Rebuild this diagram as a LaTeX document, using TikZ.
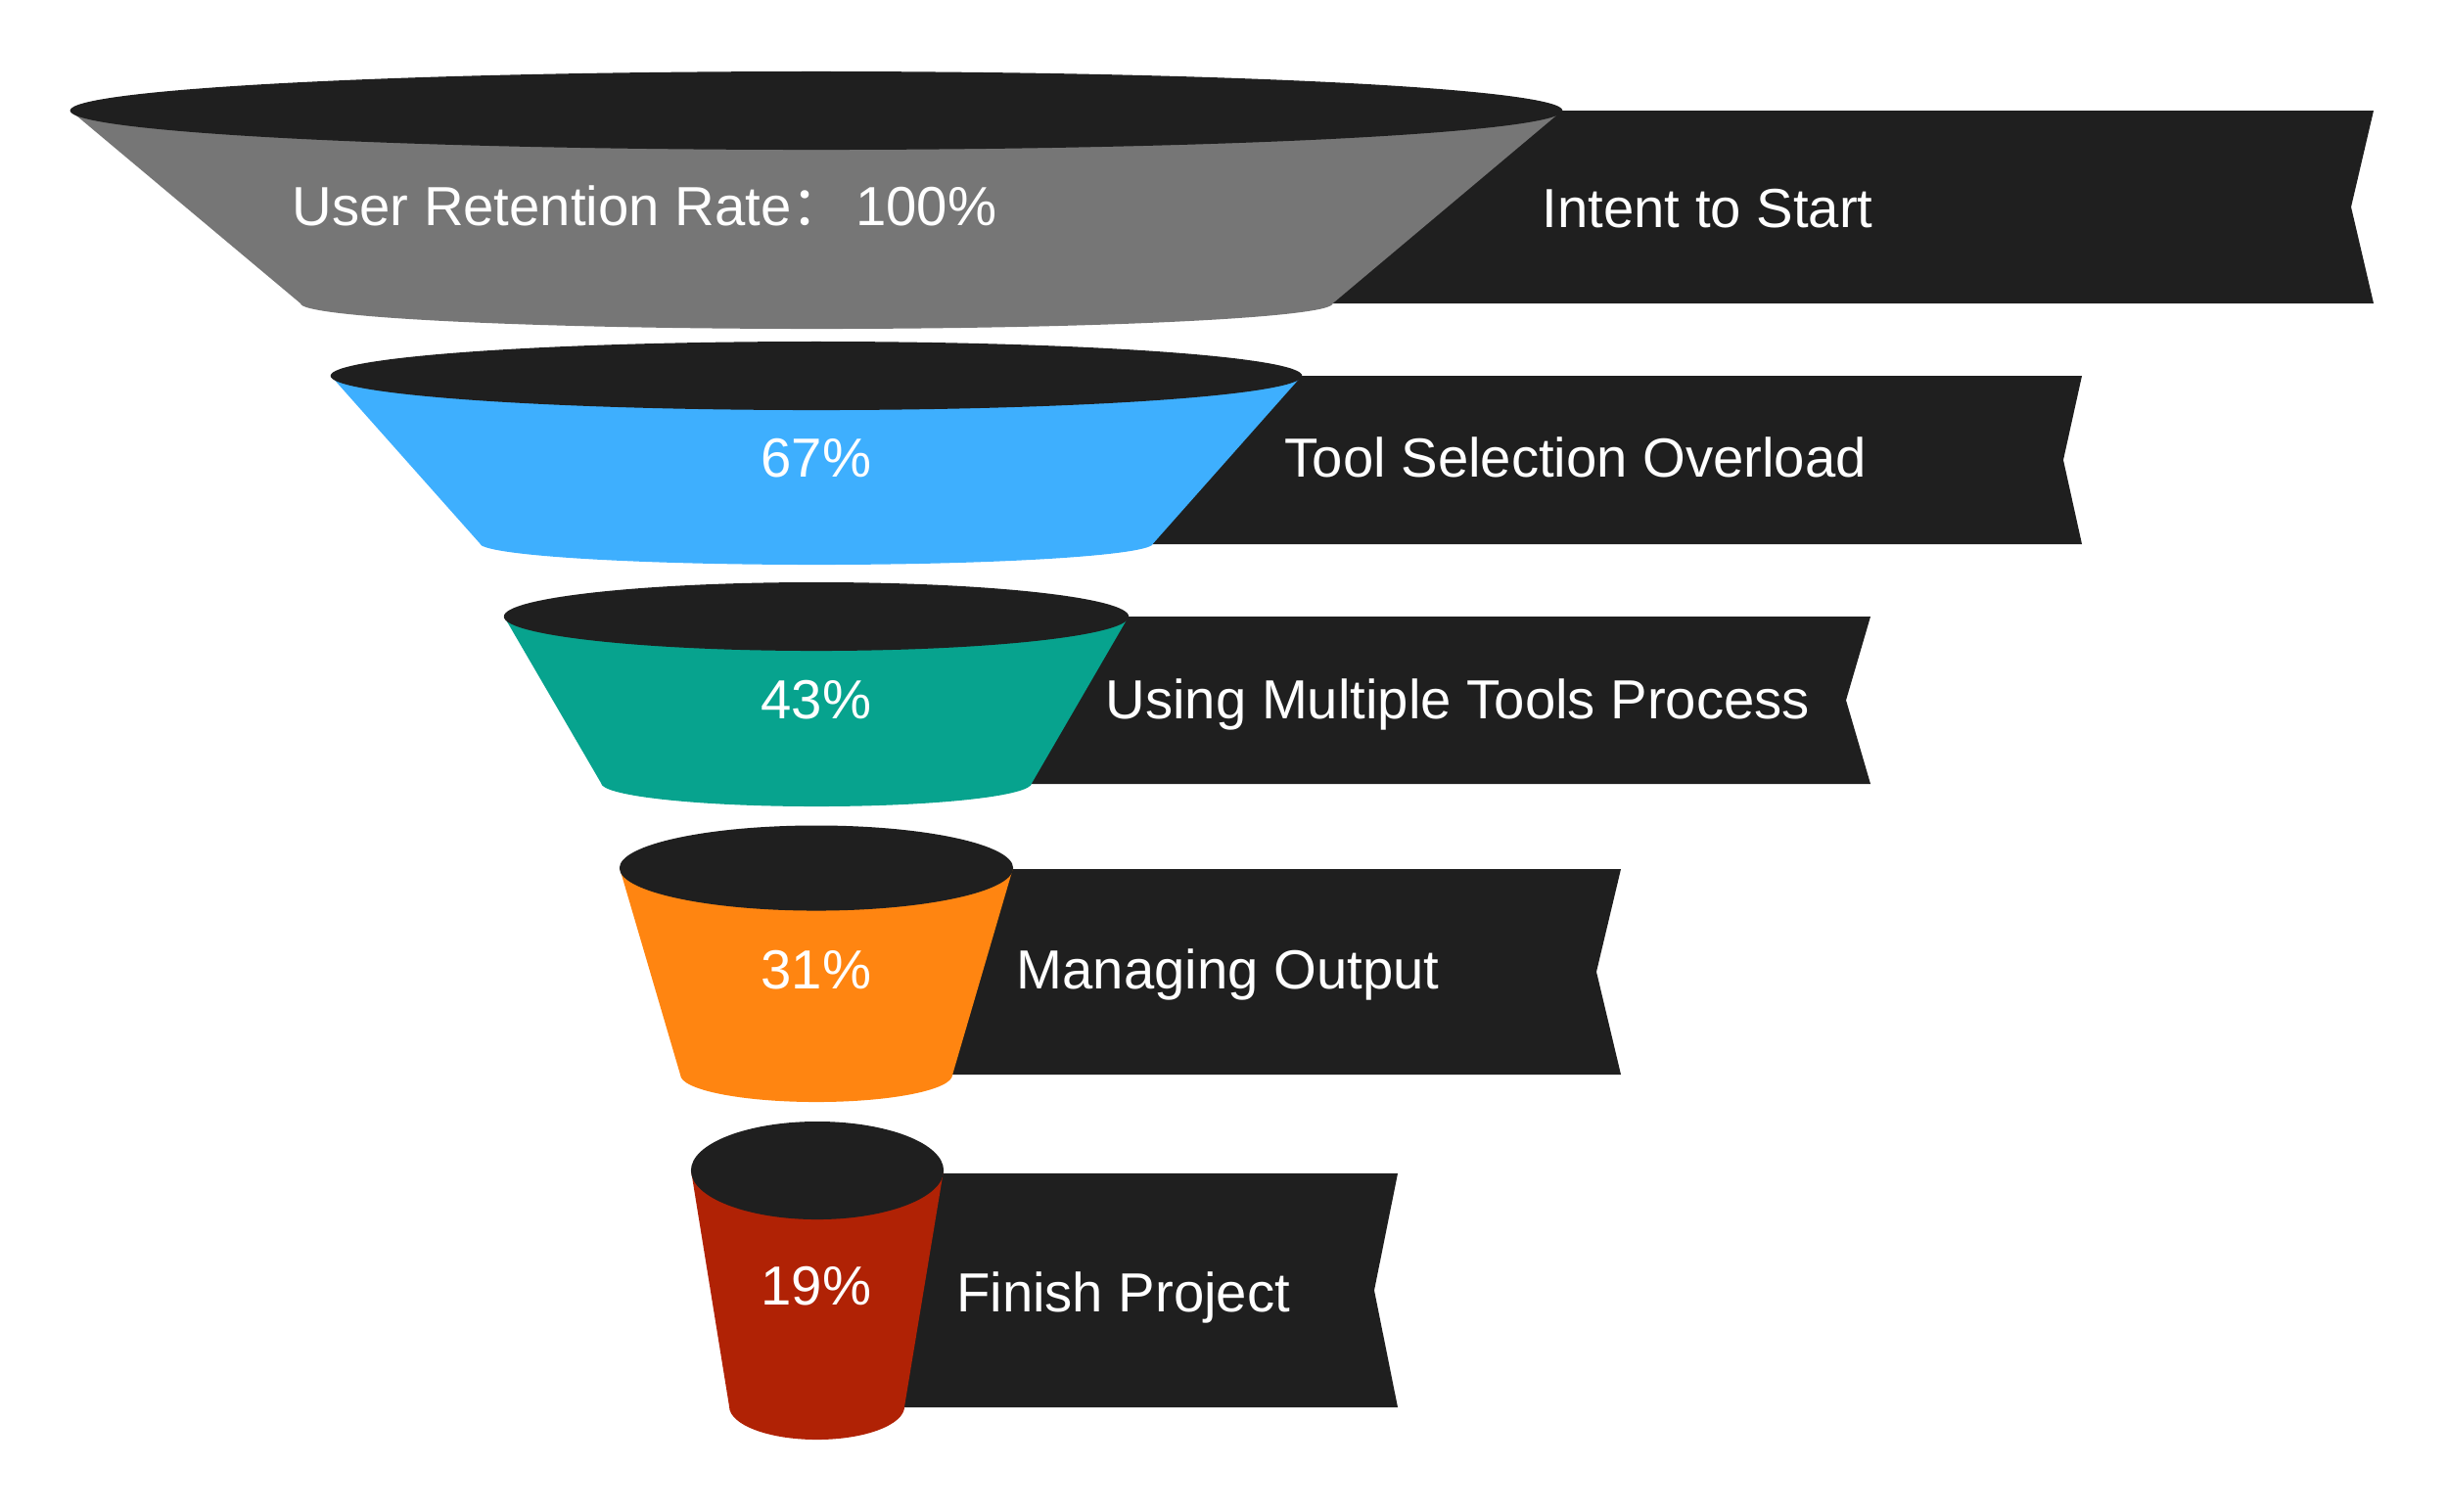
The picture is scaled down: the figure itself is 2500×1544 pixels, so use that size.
\documentclass[tikz,border=0pt]{standalone}
\usepackage{fontspec}
\setmainfont{Liberation Sans}
\newfontfamily\cjkfont{Noto Sans CJK SC}

\definecolor{funneldark}{HTML}{1F1F1F}
\definecolor{stagegray}{HTML}{767676}
\definecolor{stageblue}{HTML}{3EAFFE}
\definecolor{stageteal}{HTML}{07A38E}
\definecolor{stageorange}{HTML}{FF8511}
\definecolor{stagered}{HTML}{B02205}

\begin{document}
\begin{tikzpicture}[x=0.01cm,y=-0.01cm,font=\fontsize{16}{19}\selectfont,
  banner/.style={fill=funneldark},
  rim/.style={fill=funneldark},
  txt/.style={text=white,inner sep=0pt}]

\useasboundingbox (0,0) rectangle (2500,1544);

%------------------------------------------------
% Stage 1: Intent to Start
%------------------------------------------------
\fill[banner] (834,113)--(2425,113)--(2402,211.5)--(2425,310)--(834,310)--cycle;

\fill[stagegray] (72,113)--(307,310)
  arc[start angle=180,end angle=360,x radius=5.27cm,y radius=0.26cm]--(1596,113)--cycle;
\fill[rim] (834,113) ellipse[x radius=7.62cm,y radius=0.40cm];

\node[txt,anchor=base west] (rate) at (298,230) {User Retention Rate{\cjkfont ：}\hspace{2.7pt}100\%};
\node[txt,anchor=base west] (intent) at (1575,232.7) {Intent to Start};

%------------------------------------------------
% Stage 2: Tool Selection Overload
%------------------------------------------------
\fill[banner] (834,384)--(2127,384)--(2108,470)--(2127,556)--(834,556)--cycle;

\fill[stageblue] (338,384)--(490,555)
  arc[start angle=180,end angle=360,x radius=3.44cm,y radius=0.22cm]--(1330,384)--cycle;
\fill[rim] (834,384) ellipse[x radius=4.96cm,y radius=0.35cm];

\node[txt,anchor=base] (pcttool) at (834,487.7) {67\%};
\node[txt,anchor=base west] (tool) at (1312,487.7) {Tool Selection Overload};

%------------------------------------------------
% Stage 3: Using Multiple Tools Process
%------------------------------------------------
\fill[banner] (834,630)--(1911,630)--(1886,715.5)--(1911,801)--(834,801)--cycle;

\fill[stageteal] (515,630)--(614,800)
  arc[start angle=180,end angle=360,x radius=2.20cm,y radius=0.24cm]--(1153,630)--cycle;
\fill[rim] (834,630) ellipse[x radius=3.19cm,y radius=0.35cm];

\node[txt,anchor=base] (pctmulti) at (834,734) {43\%};
\node[txt,anchor=base west] (multi) at (1129,734) {Using Multiple Tools Process};

%------------------------------------------------
% Stage 4: Managing Output
%------------------------------------------------
\fill[banner] (834,888)--(1656,888)--(1631,993)--(1656,1098)--(834,1098)--cycle;

\fill[stageorange] (633,887)--(695,1098)
  arc[start angle=180,end angle=360,x radius=1.39cm,y radius=0.28cm]--(1035,887)--cycle;
\fill[rim] (834,887) ellipse[x radius=2.01cm,y radius=0.435cm];

\node[txt,anchor=base] (pctoutput) at (834,1010) {31\%};
\node[txt,anchor=base west] (output) at (1038,1010.7) {Managing Output};

%------------------------------------------------
% Stage 5: Finish Project
%------------------------------------------------
\fill[banner] (834,1199)--(1428,1199)--(1404,1318.5)--(1428,1438)--(834,1438)--cycle;

\fill[stagered] (706,1196)--(745,1437)
  arc[start angle=180,end angle=360,x radius=0.895cm,y radius=0.34cm]--(964,1196)--cycle;
\fill[rim] (835,1196) ellipse[x radius=1.29cm,y radius=0.50cm];

\node[txt,anchor=base] (pctfinish) at (834,1333) {19\%};
\node[txt,anchor=base west] (finish) at (976.5,1340) {Finish Project};

\end{tikzpicture}
\end{document}
